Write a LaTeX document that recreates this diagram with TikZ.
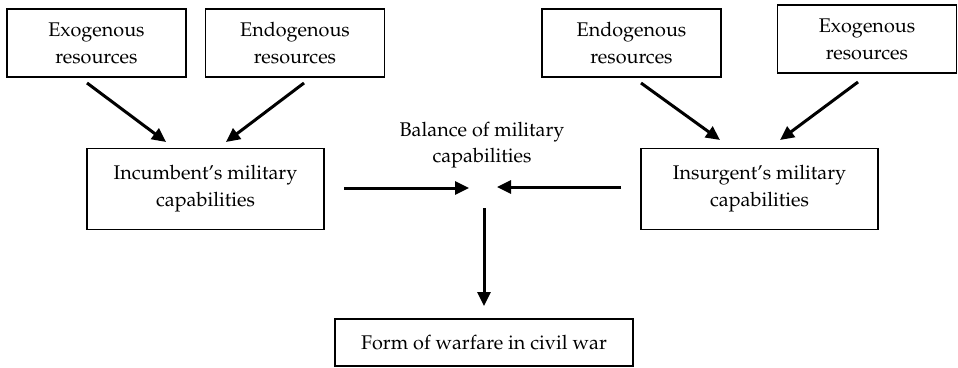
\documentclass[tikz,border=0pt]{standalone}
\usepackage[T1]{fontenc}
\usepackage{mathpazo}
\usetikzlibrary{calc,arrows.meta}

\begin{document}
\begin{tikzpicture}[x=1pt, y=-1pt,
		box/.style={draw, line width=1.1pt, align=center, inner sep=0pt, font=\fontsize{19.8}{27}\selectfont},
		resbox/.style={box, minimum width=179pt, minimum height=68pt},
		capbox/.style={box, minimum width=237pt, minimum height=81pt},
		link/.style={line width=3pt, -{Triangle[length=14pt, width=13pt]}}]
		\useasboundingbox (0, 0) rectangle (958, 367);

		\node[resbox] (exoL) at (96.5, 43) {Exogenous\\resources};
		\node[resbox] (endoL) at (295, 43) {Endogenous\\resources};
		\node[resbox] (endoR) at (631.5, 43) {Endogenous\\resources};
		\node[resbox] (exoR) at (867, 39) {Exogenous\\resources};
		\node[capbox] (inc) at (205.5, 189) {Incumbent's military\\capabilities};
		\node[capbox] (ins) at (759.5, 189) {Insurgent's military\\capabilities};
		\node[align=center, inner sep=0pt, font=\fontsize{19.8}{26}\selectfont] (bal) at (482, 145) {Balance of military\\capabilities};
		\node[box, minimum width=298pt, minimum height=47pt] (form) at (484, 342.5) {Form of warfare in civil war};

		\coordinate (a1) at (87, 83);
		\coordinate (a2) at (166, 142);
		\coordinate (b1) at (304, 83);
		\coordinate (b2) at (226, 142);
		\coordinate (c1) at (641, 83);
		\coordinate (c2) at (720, 140);
		\coordinate (d1) at (858, 82);
		\coordinate (d2) at (780, 140);
		\coordinate (e1) at (344, 188);
		\coordinate (e2) at (469, 188);
		\coordinate (f1) at (621, 187);
		\coordinate (f2) at (497, 187);
		\coordinate (g1) at (484, 208);
		\coordinate (g2) at (484, 306);

		\draw[link] (a1) -- (a2);
		\draw[link] (b1) -- (b2);
		\draw[link] (c1) -- (c2);
		\draw[link] (d1) -- (d2);
		\draw[link] (e1) -- (e2);
		\draw[link] (f1) -- (f2);
		\draw[link] (g1) -- (g2);
	\end{tikzpicture}
\end{document}
